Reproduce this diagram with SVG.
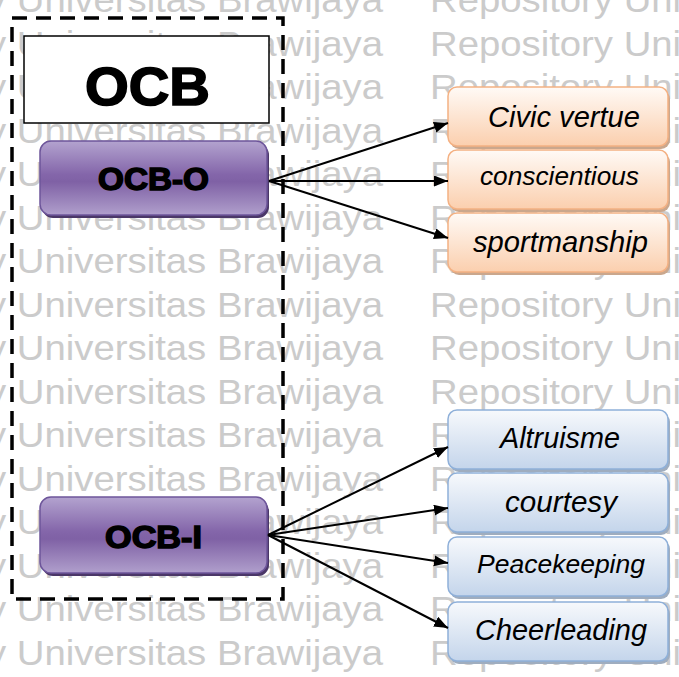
<svg xmlns="http://www.w3.org/2000/svg" width="679" height="677" viewBox="0 0 679 677">
<defs>
<style>
.wm{font-family:"Liberation Sans",Arial,sans-serif;font-size:35px;fill:#cbcbcb}
.lbl{font-family:"Liberation Sans",Arial,sans-serif;font-style:italic;fill:#000}
.big{font-family:"Liberation Sans",Arial,sans-serif;font-weight:bold;fill:#000;stroke:#000}
.conn line{stroke:#000;stroke-width:2;marker-end:url(#ah)}
.orange{fill:url(#gO);stroke:#f4b183;stroke-width:1.5}
.oshadow{fill:#caa78d}
.blue{fill:url(#gB);stroke:#8fb0d9;stroke-width:1.5}
.bshadow{fill:#9fadbf}
.purple{fill:url(#gP);stroke:#6d559a;stroke-width:1.5}
.pshadow{fill:#4b3768}
</style>
<linearGradient id="gO" x1="0" y1="0" x2="0" y2="1">
<stop offset="0" stop-color="#fffaf6"/><stop offset="1" stop-color="#fbcfae"/>
</linearGradient>
<linearGradient id="gB" x1="0" y1="0" x2="0" y2="1">
<stop offset="0" stop-color="#f7f9fc"/><stop offset="1" stop-color="#c4d5eb"/>
</linearGradient>
<linearGradient id="gP" x1="0" y1="0" x2="0" y2="1">
<stop offset="0" stop-color="#b3a3cf"/><stop offset="0.45" stop-color="#8466aa"/><stop offset="0.55" stop-color="#7f61a5"/><stop offset="1" stop-color="#b09fcc"/>
</linearGradient>
<marker id="ah" markerUnits="userSpaceOnUse" markerWidth="15" markerHeight="12" refX="14" refY="5.5" orient="auto">
<path d="M0,0 L14,5.5 L0,11 z" fill="#000"/>
</marker>
</defs>
<rect width="679" height="677" fill="#fff"/>
<g id="watermark">
<text class="wm" x="-177" y="12" textLength="560" lengthAdjust="spacingAndGlyphs">Repository Universitas Brawijaya</text><text class="wm" x="430" y="12" textLength="383" lengthAdjust="spacingAndGlyphs">Repository Universitas</text>
<text class="wm" x="-177" y="55.5" textLength="560" lengthAdjust="spacingAndGlyphs">Repository Universitas Brawijaya</text><text class="wm" x="430" y="55.5" textLength="383" lengthAdjust="spacingAndGlyphs">Repository Universitas</text>
<text class="wm" x="-177" y="99" textLength="560" lengthAdjust="spacingAndGlyphs">Repository Universitas Brawijaya</text><text class="wm" x="430" y="99" textLength="383" lengthAdjust="spacingAndGlyphs">Repository Universitas</text>
<text class="wm" x="-177" y="142.5" textLength="560" lengthAdjust="spacingAndGlyphs">Repository Universitas Brawijaya</text><text class="wm" x="430" y="142.5" textLength="383" lengthAdjust="spacingAndGlyphs">Repository Universitas</text>
<text class="wm" x="-177" y="186" textLength="560" lengthAdjust="spacingAndGlyphs">Repository Universitas Brawijaya</text><text class="wm" x="430" y="186" textLength="383" lengthAdjust="spacingAndGlyphs">Repository Universitas</text>
<text class="wm" x="-177" y="229.5" textLength="560" lengthAdjust="spacingAndGlyphs">Repository Universitas Brawijaya</text><text class="wm" x="430" y="229.5" textLength="383" lengthAdjust="spacingAndGlyphs">Repository Universitas</text>
<text class="wm" x="-177" y="273" textLength="560" lengthAdjust="spacingAndGlyphs">Repository Universitas Brawijaya</text><text class="wm" x="430" y="273" textLength="383" lengthAdjust="spacingAndGlyphs">Repository Universitas</text>
<text class="wm" x="-177" y="316.5" textLength="560" lengthAdjust="spacingAndGlyphs">Repository Universitas Brawijaya</text><text class="wm" x="430" y="316.5" textLength="383" lengthAdjust="spacingAndGlyphs">Repository Universitas</text>
<text class="wm" x="-177" y="360" textLength="560" lengthAdjust="spacingAndGlyphs">Repository Universitas Brawijaya</text><text class="wm" x="430" y="360" textLength="383" lengthAdjust="spacingAndGlyphs">Repository Universitas</text>
<text class="wm" x="-177" y="403.5" textLength="560" lengthAdjust="spacingAndGlyphs">Repository Universitas Brawijaya</text><text class="wm" x="430" y="403.5" textLength="383" lengthAdjust="spacingAndGlyphs">Repository Universitas</text>
<text class="wm" x="-177" y="447" textLength="560" lengthAdjust="spacingAndGlyphs">Repository Universitas Brawijaya</text><text class="wm" x="430" y="447" textLength="383" lengthAdjust="spacingAndGlyphs">Repository Universitas</text>
<text class="wm" x="-177" y="490.5" textLength="560" lengthAdjust="spacingAndGlyphs">Repository Universitas Brawijaya</text><text class="wm" x="430" y="490.5" textLength="383" lengthAdjust="spacingAndGlyphs">Repository Universitas</text>
<text class="wm" x="-177" y="534" textLength="560" lengthAdjust="spacingAndGlyphs">Repository Universitas Brawijaya</text><text class="wm" x="430" y="534" textLength="383" lengthAdjust="spacingAndGlyphs">Repository Universitas</text>
<text class="wm" x="-177" y="577.5" textLength="560" lengthAdjust="spacingAndGlyphs">Repository Universitas Brawijaya</text><text class="wm" x="430" y="577.5" textLength="383" lengthAdjust="spacingAndGlyphs">Repository Universitas</text>
<text class="wm" x="-177" y="621" textLength="560" lengthAdjust="spacingAndGlyphs">Repository Universitas Brawijaya</text><text class="wm" x="430" y="621" textLength="383" lengthAdjust="spacingAndGlyphs">Repository Universitas</text>
<text class="wm" x="-177" y="664.5" textLength="560" lengthAdjust="spacingAndGlyphs">Repository Universitas Brawijaya</text><text class="wm" x="430" y="664.5" textLength="383" lengthAdjust="spacingAndGlyphs">Repository Universitas</text>
</g>
<g id="ocb-group">
<rect x="12" y="18" width="271" height="581" fill="none" stroke="#000" stroke-width="3.5" stroke-dasharray="15 9"/>
</g>
<g id="ocb">
<rect x="24" y="36" width="245" height="87" fill="#fff" stroke="#000" stroke-width="1.5"/>
<text class="big" x="85" y="105" font-size="53" stroke-width="1.6" textLength="125" lengthAdjust="spacingAndGlyphs">OCB</text>
</g>
<g id="ocb-o">
<rect class="pshadow" x="42" y="144" width="227" height="74" rx="11"/>
<rect class="purple" x="40" y="141" width="227" height="74" rx="11"/>
<text class="big" x="98" y="190" font-size="31" stroke-width="1.5" textLength="111" lengthAdjust="spacingAndGlyphs">OCB-O</text>
</g>
<g id="ocb-i">
<rect class="pshadow" x="42" y="500" width="227" height="76" rx="11"/>
<rect class="purple" x="40" y="497" width="227" height="76" rx="11"/>
<text class="big" x="105" y="548" font-size="31" stroke-width="1.5" textLength="97" lengthAdjust="spacingAndGlyphs">OCB-I</text>
</g>
<g id="civic">
<rect class="oshadow" x="450" y="90" width="220" height="59" rx="9"/>
<rect class="orange" x="448" y="87" width="220" height="59" rx="9"/>
<text class="lbl" x="488" y="127" font-size="29" textLength="152" lengthAdjust="spacingAndGlyphs">Civic vertue</text>
</g>
<g id="conscientious">
<rect class="oshadow" x="450" y="153" width="220" height="59" rx="9"/>
<rect class="orange" x="448" y="150" width="220" height="59" rx="9"/>
<text class="lbl" x="480" y="185" font-size="26" textLength="159" lengthAdjust="spacingAndGlyphs">conscientious</text>
</g>
<g id="sportmanship">
<rect class="oshadow" x="450" y="216" width="220" height="59" rx="9"/>
<rect class="orange" x="448" y="213" width="220" height="59" rx="9"/>
<text class="lbl" x="473" y="252" font-size="29" textLength="175" lengthAdjust="spacingAndGlyphs">sportmanship</text>
</g>
<g id="altruisme">
<rect class="bshadow" x="450" y="413" width="220" height="59" rx="9"/>
<rect class="blue" x="448" y="410" width="220" height="59" rx="9"/>
<text class="lbl" x="500" y="448" font-size="29" textLength="120" lengthAdjust="spacingAndGlyphs">Altruisme</text>
</g>
<g id="courtesy">
<rect class="bshadow" x="450" y="476" width="220" height="59" rx="9"/>
<rect class="blue" x="448" y="473" width="220" height="59" rx="9"/>
<text class="lbl" x="505" y="512" font-size="29" textLength="112" lengthAdjust="spacingAndGlyphs">courtesy</text>
</g>
<g id="peacekeeping">
<rect class="bshadow" x="450" y="540" width="220" height="59" rx="9"/>
<rect class="blue" x="448" y="537" width="220" height="59" rx="9"/>
<text class="lbl" x="477" y="573" font-size="25" textLength="168" lengthAdjust="spacingAndGlyphs">Peacekeeping</text>
</g>
<g id="cheerleading">
<rect class="bshadow" x="450" y="605" width="220" height="59" rx="9"/>
<rect class="blue" x="448" y="602" width="220" height="59" rx="9"/>
<text class="lbl" x="475" y="640" font-size="29" textLength="172" lengthAdjust="spacingAndGlyphs">Cheerleading</text>
</g>
<g id="connectors" class="conn">
<line x1="269" y1="181" x2="448" y2="123"/>
<line x1="269" y1="181" x2="448" y2="181"/>
<line x1="269" y1="181" x2="448" y2="238"/>
<line x1="268" y1="535" x2="448" y2="447"/>
<line x1="268" y1="535" x2="448" y2="508"/>
<line x1="268" y1="535" x2="448" y2="563"/>
<line x1="268" y1="535" x2="448" y2="628"/>
</g>
</svg>
